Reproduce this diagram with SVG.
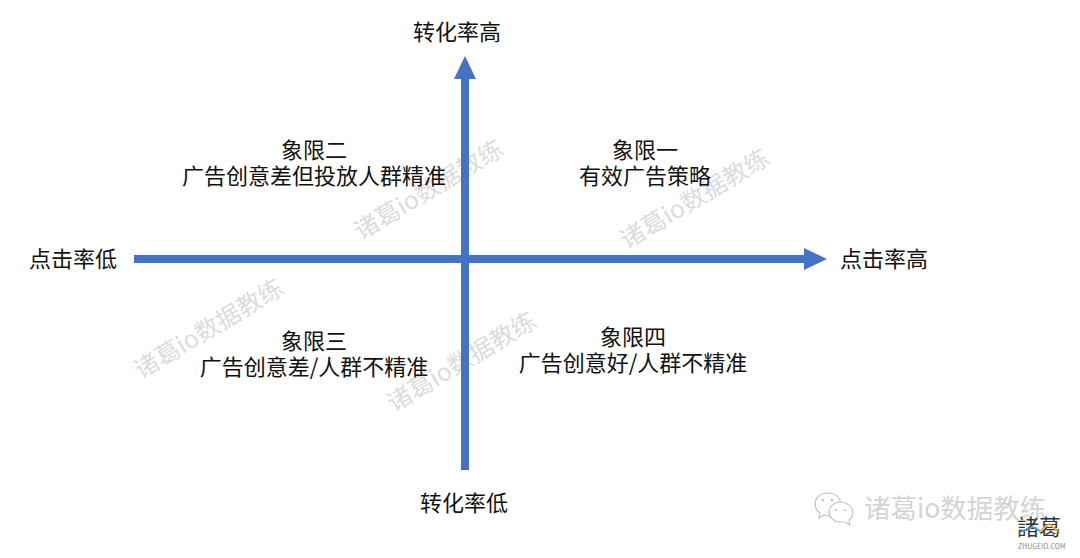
<svg xmlns="http://www.w3.org/2000/svg" width="1080" height="558" viewBox="0 0 1080 558">
<style>
text{font-family:"Noto Sans CJK SC","Noto Sans",sans-serif}
.l{font-size:22px;fill:#111;text-anchor:middle}
.w{font-size:24.5px;fill:#dcdcdc;text-anchor:middle}
.c{stroke:#4472c4;stroke-width:8;fill:none}
.a{fill:#4472c4}
</style>
<rect width="1080" height="558" fill="#fff"/>
<g id="watermarks">
<text class="w" transform="translate(433 197) rotate(-31)">诸葛io数据教练</text>
<text class="w" transform="translate(699 206) rotate(-31)">诸葛io数据教练</text>
<text class="w" transform="translate(213 336) rotate(-31)">诸葛io数据教练</text>
<text class="w" transform="translate(466 369) rotate(-31)">诸葛io数据教练</text>
</g>
<g id="connectors">
<path class="c" d="M465 470V78"/><path class="a" d="M465 56L476 79H454Z"/>
<path class="c" d="M134 259H806"/><path class="a" d="M827 259L804 248V270Z"/>
</g>
<g id="axis-top"><text class="l" x="457" y="40">转化率高</text></g>
<g id="axis-bottom"><text class="l" x="464" y="511">转化率低</text></g>
<g id="axis-left"><text class="l" x="73" y="267">点击率低</text></g>
<g id="axis-right"><text class="l" x="884" y="267">点击率高</text></g>
<g id="q2"><text class="l" x="314" y="158">象限二</text><text class="l" x="314" y="184">广告创意差但投放人群精准</text></g>
<g id="q1"><text class="l" x="645" y="158">象限一</text><text class="l" x="645" y="184">有效广告策略</text></g>
<g id="q3"><text class="l" x="314" y="349">象限三</text><text class="l" x="314" y="375">广告创意差/人群不精准</text></g>
<g id="q4"><text class="l" x="633" y="345">象限四</text><text class="l" x="633" y="371">广告创意好/人群不精准</text></g>
<g id="footer">
<g fill="#fff" stroke="#c4c4c4" stroke-width="1.2">
<path d="M828 493c-8 0-13 5-13 11 0 4 2 7 5 9l-1 5 5-3c2 1 4 1 6 1 6 0 11-5 11-11 0-7-6-12-13-12z"/>
<path d="M840 502c-6 0-11 5-11 10s5 10 11 10l5 0 5 3-1-5c3-2 4-5 4-8 0-5-6-10-13-10z"/>
</g>
<g fill="#c4c4c4"><circle cx="823" cy="500" r="1.3"/><circle cx="832" cy="500" r="1.3"/><circle cx="836" cy="510" r="1.1"/><circle cx="845" cy="510" r="1.1"/></g>
<text x="864" y="518" font-size="26.5" fill="#d4d4d4">诸葛io数据教练</text>
<text x="1017" y="535" font-size="22" fill="#333">諸葛</text>
<path d="M1020 532l13-5 7 4" fill="none" stroke="#3f9be0" stroke-width="1.8"/>
<path d="M1040 531l9-7 9 7" fill="none" stroke="#f0a93a" stroke-width="1.8"/>
<text x="1018" y="549" font-size="7" fill="#888" font-family="Liberation Sans,sans-serif">ZHUGEIO.COM</text>
</g>
</svg>
